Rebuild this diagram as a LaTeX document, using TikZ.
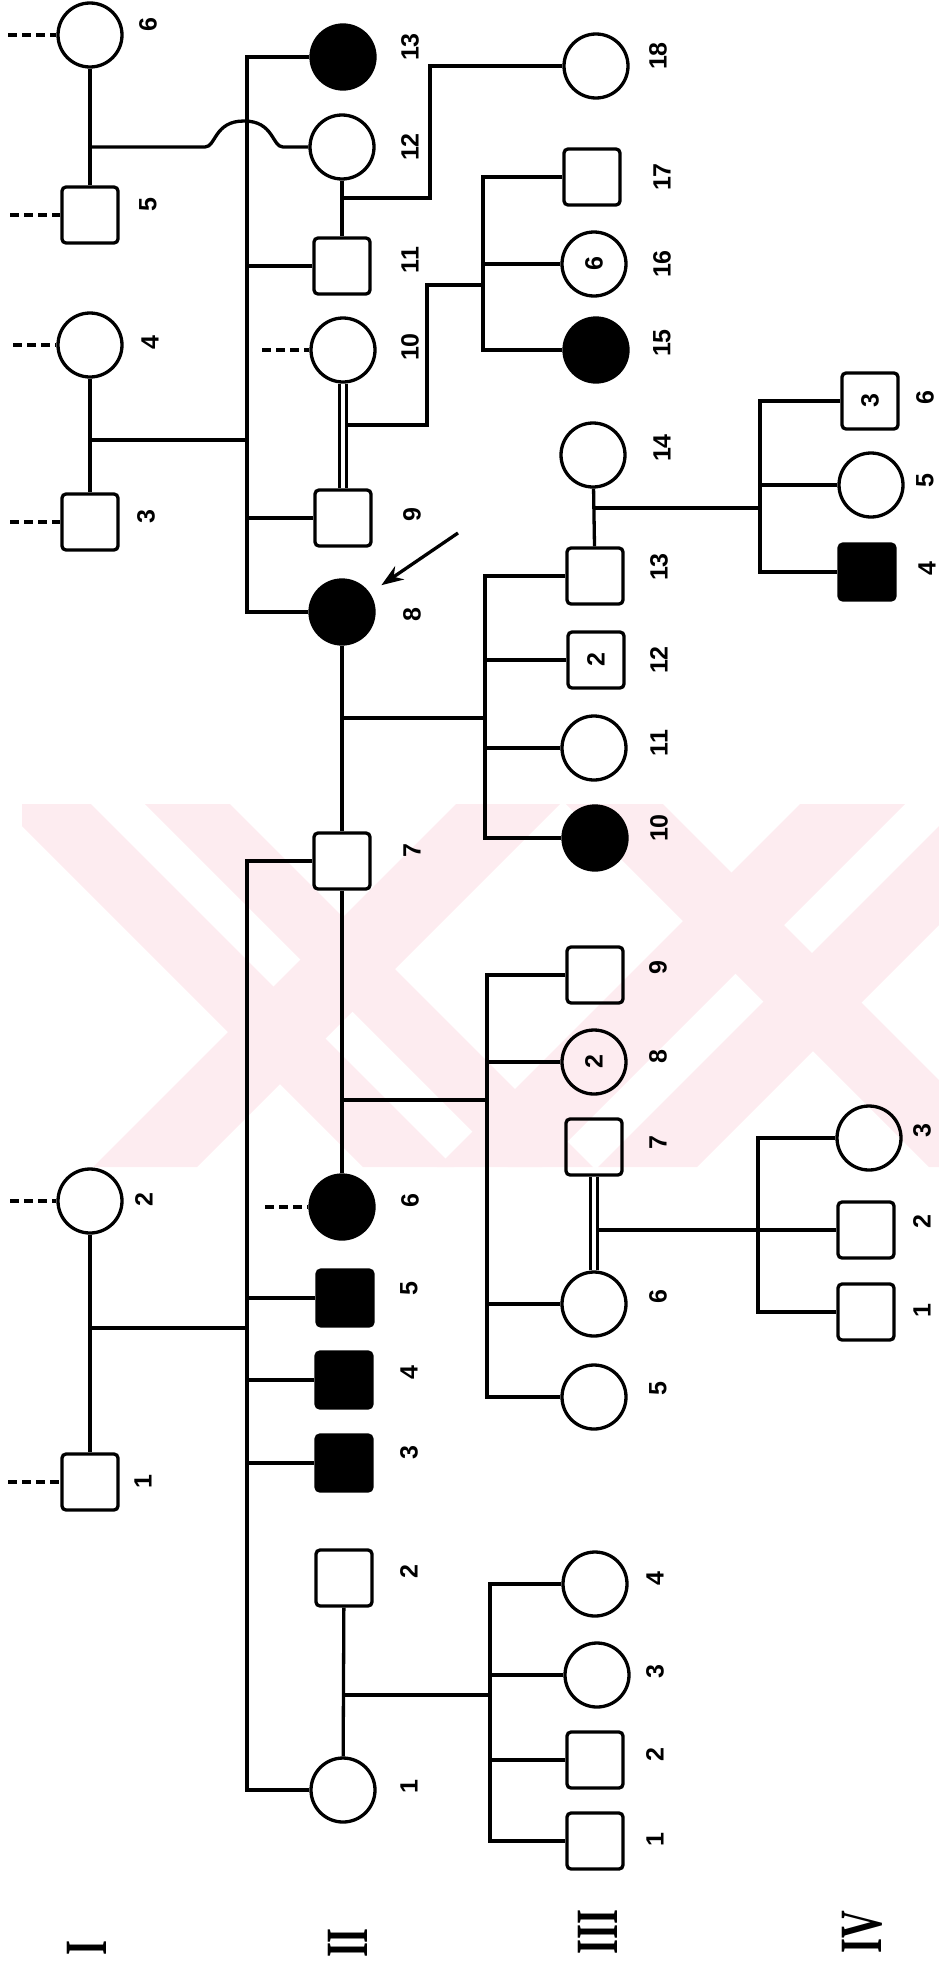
\documentclass[tikz,border=0pt]{standalone}
\usepackage{fontspec}
\usepackage{graphicx}
\setsansfont{Liberation Sans}
\newfontfamily\genfont{Liberation Serif}
\newcommand\numfont{\sffamily\bfseries\fontsize{25}{25}\selectfont}
\usetikzlibrary{arrows.meta}
\definecolor{wmpink}{RGB}{253,236,240}
\begin{document}
\begin{tikzpicture}[x=1pt,y=-1pt,
  lw/.style={line width=3.3pt},
  male/.style={draw, lw, rectangle, rounded corners=4pt, minimum size=56pt, inner sep=0pt},
  female/.style={draw, lw, circle, minimum size=64pt, inner sep=0pt},
  aff/.style={fill=black},
  lab/.style={rotate=90, inner sep=0pt, font=\numfont},
  gen/.style={rotate=90, inner sep=0pt, font=\genfont\bfseries\fontsize{60}{60}\selectfont},
  edge/.style={lw},
  dbl/.style={line width=2.8pt, double, double distance=4pt},
  ext/.style={lw, dash pattern=on 9pt off 5pt},
]
\useasboundingbox (0,0) rectangle (939,1967);

% watermark
\begin{scope}
\clip (22,804) rectangle (939,1167);
\fill[wmpink] (0,804) -- (91,804) -- (454,1167) -- (363,1167) -- cycle;
\fill[wmpink] (145,804) -- (230,804) -- (593,1167) -- (508,1167) -- cycle;
\fill[wmpink] (456,804) -- (560,804) -- (197,1167) -- (93,1167) -- cycle;
\fill[wmpink] (566,804) -- (663,804) -- (1026,1167) -- (929,1167) -- cycle;
\fill[wmpink] (800,804) -- (905,804) -- (542,1167) -- (437,1167) -- cycle;
\fill[wmpink] (961,804) -- (1060,804) -- (697,1167) -- (598,1167) -- cycle;
\end{scope}

% Generation I
\node[female] (I6) at (90,35) {};
\node[male] (I5) at (90,215) {};
\node[female] (I4) at (90,345) {};
\node[male] (I3) at (90,522) {};
\node[female] (I2) at (90,1201) {};
\node[male] (I1) at (90,1482) {};

% Generation II
\node[female,aff] (II13) at (343,57) {};
\node[female] (II12) at (342,147) {};
\node[male] (II11) at (342,266) {};
\node[female] (II10) at (343,350) {};
\node[male] (II9) at (343,518) {};
\node[female,aff] (II8) at (342,612) {};
\node[male] (II7) at (342,861) {};
\node[female,aff] (II6) at (342,1207) {};
\node[male,aff] (II5) at (345,1298) {};
\node[male,aff] (II4) at (344,1380) {};
\node[male,aff] (II3) at (344,1463) {};
\node[male] (II2) at (344,1578) {};
\node[female] (II1) at (343,1790) {};

% Generation III
\node[female] (III18) at (596,66) {};
\node[male] (III17) at (592,177) {};
\node[female] (III16) at (594,264) {};
\node[female,aff] (III15) at (596,350) {};
\node[female] (III14) at (593,455) {};
\node[male] (III13) at (595,576) {};
\node[male] (III12) at (596,660) {};
\node[female] (III11) at (594,748) {};
\node[female,aff] (III10) at (595,838) {};
\node[male] (III9) at (595,975) {};
\node[female] (III8) at (594,1062) {};
\node[male] (III7) at (594,1147) {};
\node[female] (III6) at (594,1304) {};
\node[female] (III5) at (594,1397) {};
\node[female] (III4) at (595,1584) {};
\node[female] (III3) at (597,1675) {};
\node[male] (III2) at (595,1760) {};
\node[male] (III1) at (595,1841) {};

% Generation IV
\node[male] (IV6) at (870,401) {};
\node[female] (IV5) at (871,485) {};
\node[male,aff] (IV4) at (867,572) {};
\node[female] (IV3) at (869,1138) {};
\node[male] (IV2) at (866,1230) {};
\node[male] (IV1) at (866,1312) {};

% counts inside symbols
\node[lab] (nIII16) at (III16) {6};
\node[lab] (nIII12) at (III12) {2};
\node[lab] (nIII8) at (III8) {2};
\node[lab] (nIV6) at (IV6) {3};

% I-5 x I-6 -> II-12
\draw[edge] (I6) -- (I5);
\coordinate (m56) at (90,147);
\draw[edge] (m56) -- (205,147) .. controls (216,147) and (214,121) .. (244,121)
  .. controls (274,121) and (272,147) .. (283,147) -- (II12.west);

% I-3 x I-4 -> II-8..II-13
\draw[edge] (I4) -- (I3);
\coordinate (m34) at (90,440);
\coordinate (sA) at (247,440);
\draw[edge] (m34) -- (sA);
\draw[edge] (II13.west) -- (II13.west -| sA) -- (II8.west -| sA) -- (II8.west);
\draw[edge] (II11.west) -- (II11.west -| sA);
\draw[edge] (II9.west) -- (II9.west -| sA);

% II-11 x II-12 -> III-18
\draw[edge] (II12) -- (II11);
\coordinate (m1112) at (342,198);
\draw[edge] (m1112) -- (430,198) -- (430,66) -- (III18.west);

% II-9 x II-10 -> III-15..17
\coordinate (m910) at (343,425);
\coordinate (sB) at (483,285);
\draw[edge] (m910) -- (427,425) -- (427,285) -- (sB);
\draw[edge] (III17.west) -- (III17.west -| sB) -- (III15.west -| sB) -- (III15.west);
\draw[edge] (III16.west) -- (III16.west -| sB);
\draw[dbl] (II10) -- (II9);

% II-7 x II-8 -> III-10..13
\draw[edge] (II8) -- (II7);
\coordinate (m78) at (342,718);
\coordinate (sC) at (485,718);
\draw[edge] (m78) -- (sC);
\draw[edge] (III13.west) -- (III13.west -| sC) -- (III10.west -| sC) -- (III10.west);
\draw[edge] (III12.west) -- (III12.west -| sC);
\draw[edge] (III11.west) -- (III11.west -| sC);

% III-13 x III-14 -> IV-4..6
\draw[edge] (III14) -- (III13);
\coordinate (m1314) at (595,508);
\coordinate (sD) at (760,508);
\draw[edge] (m1314) -- (sD);
\draw[edge] (IV6.west) -- (IV6.west -| sD) -- (IV4.west -| sD) -- (IV4.west);
\draw[edge] (IV5.west) -- (IV5.west -| sD);

% I-1 x I-2 -> II-1..II-7
\draw[edge] (I2) -- (I1);
\coordinate (m12) at (90,1328);
\coordinate (sE) at (247,1328);
\draw[edge] (m12) -- (sE);
\draw[edge] (II7.west) -- (II7.west -| sE) -- (II1.west -| sE) -- (II1.west);
\draw[edge] (II5.west) -- (II5.west -| sE);
\draw[edge] (II4.west) -- (II4.west -| sE);
\draw[edge] (II3.west) -- (II3.west -| sE);

% II-6 x II-7 -> III-5..9
\draw[edge] (II7) -- (II6);
\coordinate (m67) at (342,1100);
\coordinate (sF) at (487,1100);
\draw[edge] (m67) -- (sF);
\draw[edge] (III9.west) -- (III9.west -| sF) -- (III5.west -| sF) -- (III5.west);
\draw[edge] (III8.west) -- (III8.west -| sF);
\draw[edge] (III6.west) -- (III6.west -| sF);

% III-6 x III-7 -> IV-1..3
\coordinate (mIIIsixseven) at (595,1230);
\coordinate (sG) at (758,1230);
\draw[edge] (mIIIsixseven) -- (IV2.west);
\draw[edge] (IV3.west) -- (IV3.west -| sG) -- (IV1.west -| sG) -- (IV1.west);
\draw[dbl] (III7) -- (III6);

% II-1 x II-2 -> III-1..4
\draw[edge] (II2) -- (II1);
\coordinate (monetwo) at (343,1695);
\coordinate (sH) at (490,1695);
\draw[edge] (monetwo) -- (sH);
\draw[edge] (III4.west) -- (III4.west -| sH) -- (III1.west -| sH) -- (III1.west);
\draw[edge] (III3.west) -- (III3.west -| sH);
\draw[edge] (III2.west) -- (III2.west -| sH);

% dashed lines to unknown ancestry
\coordinate (dI6) at (8,35);
\coordinate (dI5) at (10,215);
\coordinate (dI4) at (13,345);
\coordinate (dI3) at (10,522);
\coordinate (dI2) at (10,1201);
\coordinate (dI1) at (8,1482);
\coordinate (dII10) at (262,350);
\coordinate (dII6) at (265,1207);
\draw[ext] (dI6) -- (I6.west);
\draw[ext] (dI5) -- (I5.west);
\draw[ext] (dI4) -- (I4.west);
\draw[ext] (dI3) -- (I3.west);
\draw[ext] (dI2) -- (I2.west);
\draw[ext] (dI1) -- (I1.west);
\draw[ext] (dII10) -- (II10.west);
\draw[ext] (dII6) -- (II6.west);

% proband arrow
\coordinate (arrS) at (458,533);
\draw[lw, -{Stealth[length=22pt,width=16pt]}, shorten >=14pt] (arrS) -- (II8);

% labels generation I
\node[lab] (lI6) at (148,25) {6};
\node[lab] (lI5) at (148,205) {5};
\node[lab] (lI4) at (150,343) {4};
\node[lab] (lI3) at (146,517) {3};
\node[lab] (lI2) at (144,1200) {2};
\node[lab] (lI1) at (143,1482) {1};

% labels generation II
\node[lab] (lII13) at (410,47) {13};
\node[lab] (lII12) at (410,147) {12};
\node[lab] (lII11) at (410,260) {11};
\node[lab] (lII10) at (410,347) {10};
\node[lab] (lII9) at (412,515) {9};
\node[lab] (lII8) at (412,615) {8};
\node[lab] (lII7) at (412,851) {7};
\node[lab] (lII6) at (410,1201) {6};
\node[lab] (lII5) at (409,1289) {5};
\node[lab] (lII4) at (409,1373) {4};
\node[lab] (lII3) at (409,1453) {3};
\node[lab] (lII2) at (409,1572) {2};
\node[lab] (lII1) at (409,1787) {1};

% labels generation III
\node[lab] (lIII18) at (658,56) {18};
\node[lab] (lIII17) at (662,177) {17};
\node[lab] (lIII16) at (662,264) {16};
\node[lab] (lIII15) at (662,343) {15};
\node[lab] (lIII14) at (662,448) {14};
\node[lab] (lIII13) at (659,567) {13};
\node[lab] (lIII12) at (659,660) {12};
\node[lab] (lIII11) at (659,743) {11};
\node[lab] (lIII10) at (659,828) {10};
\node[lab] (lIII9) at (658,968) {9};
\node[lab] (lIII8) at (658,1057) {8};
\node[lab] (lIII7) at (658,1143) {7};
\node[lab] (lIII6) at (658,1297) {6};
\node[lab] (lIII5) at (658,1389) {5};
\node[lab] (lIII4) at (655,1579) {4};
\node[lab] (lIII3) at (655,1672) {3};
\node[lab] (lIII2) at (655,1755) {2};
\node[lab] (lIII1) at (655,1840) {1};

% labels generation IV
\node[lab] (lIV6) at (925,398) {6};
\node[lab] (lIV5) at (925,481) {5};
\node[lab] (lIV4) at (927,569) {4};
\node[lab] (lIV3) at (922,1131) {3};
\node[lab] (lIV2) at (922,1222) {2};
\node[lab] (lIV1) at (922,1311) {1};

% generation numerals
\node[gen] (gI) at (87,1948) {\scalebox{0.64}[1]{I}};
\node[gen] (gII) at (348,1943) {\scalebox{0.64}[1]{II}};
\node[gen] (gIII) at (598,1932) {\scalebox{0.64}[1]{III}};
\node[gen] (gIV) at (862,1932) {\scalebox{0.64}[1]{IV}};
\end{tikzpicture}
\end{document}
